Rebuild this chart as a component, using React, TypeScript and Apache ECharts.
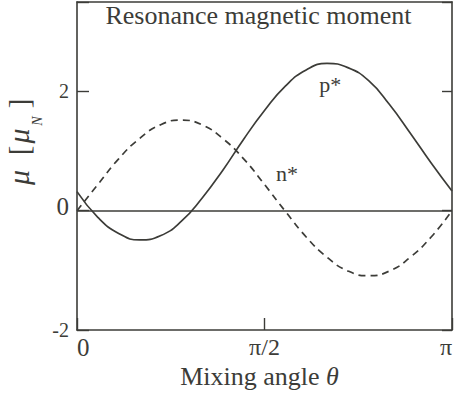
import React, { useEffect, useRef } from 'react';
import * as echarts from 'echarts';

// Mixing angle in degrees (0 .. 180 = 0 .. π)
const thetaDeg = [0, 10, 20, 30, 40, 50, 60, 70, 80, 90, 100, 110, 120, 130, 140, 150, 160, 170, 180];
// p* resonance magnetic moment (μ_N), solid
const pStar = [0.32, -0.11, -0.38, -0.49, -0.42, -0.18, 0.21, 0.68, 1.2, 1.68, 2.09, 2.36, 2.47, 2.4, 2.18, 1.78, 1.3, 0.8, 0.33];
// n* resonance magnetic moment (μ_N), dashed
const nStar = [0.0, 0.44, 0.87, 1.21, 1.44, 1.52, 1.44, 1.21, 0.87, 0.44, -0.01, -0.44, -0.78, -1.01, -1.09, -1.01, -0.78, -0.44, 0.0];

const xTickValues = [0, 90, 180];
const xTickLabels = ['0', 'π/2', 'π'];
const yTickValues = [-2, 0, 2];
const yTickLabels = ['-2', '0', '2'];

const titleText = 'Resonance magnetic moment';
const xAxisTitle = 'Mixing angle ';
const seriesNames = ['p*', 'n*'];
const labelAt = [
  [121.5, 2.12],
  [100.8, 0.63],
];

const INK = '#3c3c38';
const FONT = "'Liberation Serif', 'Times New Roman', serif";

export default function App() {
  const ref = useRef<HTMLDivElement>(null);

  useEffect(() => {
    document.body.style.margin = '0';
    if (!ref.current) return;
    const chart = echarts.init(ref.current, undefined, { renderer: 'svg' });

    const xLabel = (v: number) => {
      const i = xTickValues.indexOf(v);
      if (i < 0) return '';
      return v === 0 ? '{z|' + xTickLabels[i] + '}' : xTickLabels[i];
    };
    const yLabel = (v: number) => {
      const i = yTickValues.indexOf(v);
      if (i < 0) return '';
      return v === 0 ? '{z|' + yTickLabels[i] + '}' : yTickLabels[i];
    };

    const axisLine = { show: true, onZero: false, lineStyle: { color: INK, width: 1.6 } };

    const option: any = {
      animation: false,
      backgroundColor: '#ffffff',
      textStyle: { fontFamily: FONT },
      grid: { left: 77, right: 4, top: 2, bottom: 71, containLabel: false },
      xAxis: [
        {
          type: 'value',
          position: 'bottom',
          min: 0,
          max: 180,
          interval: 90,
          axisLine,
          axisTick: { show: true, inside: true, length: 12, lineStyle: { color: INK, width: 1.4 } },
          splitLine: { show: false },
          axisLabel: {
            show: true,
            margin: 5,
            color: INK,
            fontFamily: FONT,
            fontSize: 24,
            formatter: xLabel,
            alignMinLabel: 'left',
            alignMaxLabel: 'right',
            rich: { z: { fontSize: 25, fontFamily: FONT, color: INK } },
          },
        },
        {
          type: 'value',
          position: 'top',
          min: 0,
          max: 180,
          interval: 90,
          axisLine,
          axisTick: { show: false },
          splitLine: { show: false },
          axisLabel: { show: false },
        },
      ],
      yAxis: [
        {
          type: 'value',
          position: 'left',
          min: -2,
          max: 3.5,
          interval: 2,
          axisLine,
          axisTick: { show: true, inside: true, length: 12, lineStyle: { color: INK, width: 1.4 } },
          splitLine: { show: false },
          axisLabel: {
            show: true,
            margin: 8,
            color: INK,
            fontFamily: FONT,
            fontSize: 20,
            formatter: yLabel,
            rich: { z: { fontSize: 25, fontFamily: FONT, color: INK, padding: [0, 0, 9, 0] } },
          },
        },
        {
          type: 'value',
          position: 'right',
          min: -2,
          max: 3.5,
          interval: 2,
          axisLine,
          axisTick: { show: true, inside: true, length: 10, lineStyle: { color: INK, width: 1.4 } },
          splitLine: { show: false },
          axisLabel: { show: false },
        },
      ],
      series: [
        {
          name: seriesNames[0],
          type: 'line',
          xAxisIndex: 0,
          yAxisIndex: 0,
          data: thetaDeg.map((t, i) => [t, pStar[i]]),
          smooth: true,
          symbol: 'none',
          lineStyle: { color: INK, width: 1.7, type: 'solid' },
          markLine: {
            silent: true,
            symbol: ['none', 'none'],
            label: { show: false },
            lineStyle: { color: INK, width: 1.7, type: 'solid' },
            data: [{ yAxis: 0 }],
          },
          markPoint: {
            symbol: 'circle',
            symbolSize: 0,
            itemStyle: { color: 'transparent' },
            label: { show: true, position: 'inside', color: INK, fontFamily: FONT, fontSize: 22, formatter: seriesNames[0] },
            data: [{ coord: labelAt[0] }],
          },
        },
        {
          name: seriesNames[1],
          type: 'line',
          xAxisIndex: 0,
          yAxisIndex: 0,
          data: thetaDeg.map((t, i) => [t, nStar[i]]),
          smooth: true,
          symbol: 'none',
          lineStyle: { color: INK, width: 1.7, type: [7, 5] },
          markPoint: {
            symbol: 'circle',
            symbolSize: 0,
            itemStyle: { color: 'transparent' },
            label: { show: true, position: 'inside', color: INK, fontFamily: FONT, fontSize: 22, formatter: seriesNames[1] },
            data: [{ coord: labelAt[1] }],
          },
        },
      ],
      graphic: [
        {
          type: 'text',
          x: 258.5,
          y: 15.2,
          style: { text: titleText, fill: INK, font: '26px ' + FONT, textAlign: 'center', textVerticalAlign: 'middle' },
        },
        {
          type: 'text',
          x: 259.5,
          y: 376,
          style: {
            text: xAxisTitle + '{i|θ}',
            fill: INK,
            font: '26px ' + FONT,
            textAlign: 'center',
            textVerticalAlign: 'middle',
            rich: { i: { fontStyle: 'italic', fontSize: 26, fontFamily: FONT, fill: INK } },
          },
        },
        {
          type: 'group',
          children: [
            { type: 'text', x: 18, y: 177.5, rotation: Math.PI / 2, style: { text: 'μ', fill: INK, font: 'italic 30px ' + FONT, textAlign: 'center', textVerticalAlign: 'middle' } },
            { type: 'text', x: 19, y: 150.5, rotation: Math.PI / 2, style: { text: '[', fill: INK, font: '29px ' + FONT, textAlign: 'center', textVerticalAlign: 'middle' } },
            { type: 'text', x: 18, y: 136, rotation: Math.PI / 2, style: { text: 'μ', fill: INK, font: 'italic 30px ' + FONT, textAlign: 'center', textVerticalAlign: 'middle' } },
            { type: 'text', x: 37, y: 121, rotation: Math.PI / 2, style: { text: 'N', fill: INK, font: 'italic 14px ' + FONT, textAlign: 'center', textVerticalAlign: 'middle' } },
            { type: 'text', x: 19, y: 103.5, rotation: Math.PI / 2, style: { text: ']', fill: INK, font: '29px ' + FONT, textAlign: 'center', textVerticalAlign: 'middle' } },
          ],
        },
      ],
    };

    chart.setOption(option);
    return () => chart.dispose();
  }, []);

  return <div ref={ref} style={{ width: 456, height: 401 }} />;
}
